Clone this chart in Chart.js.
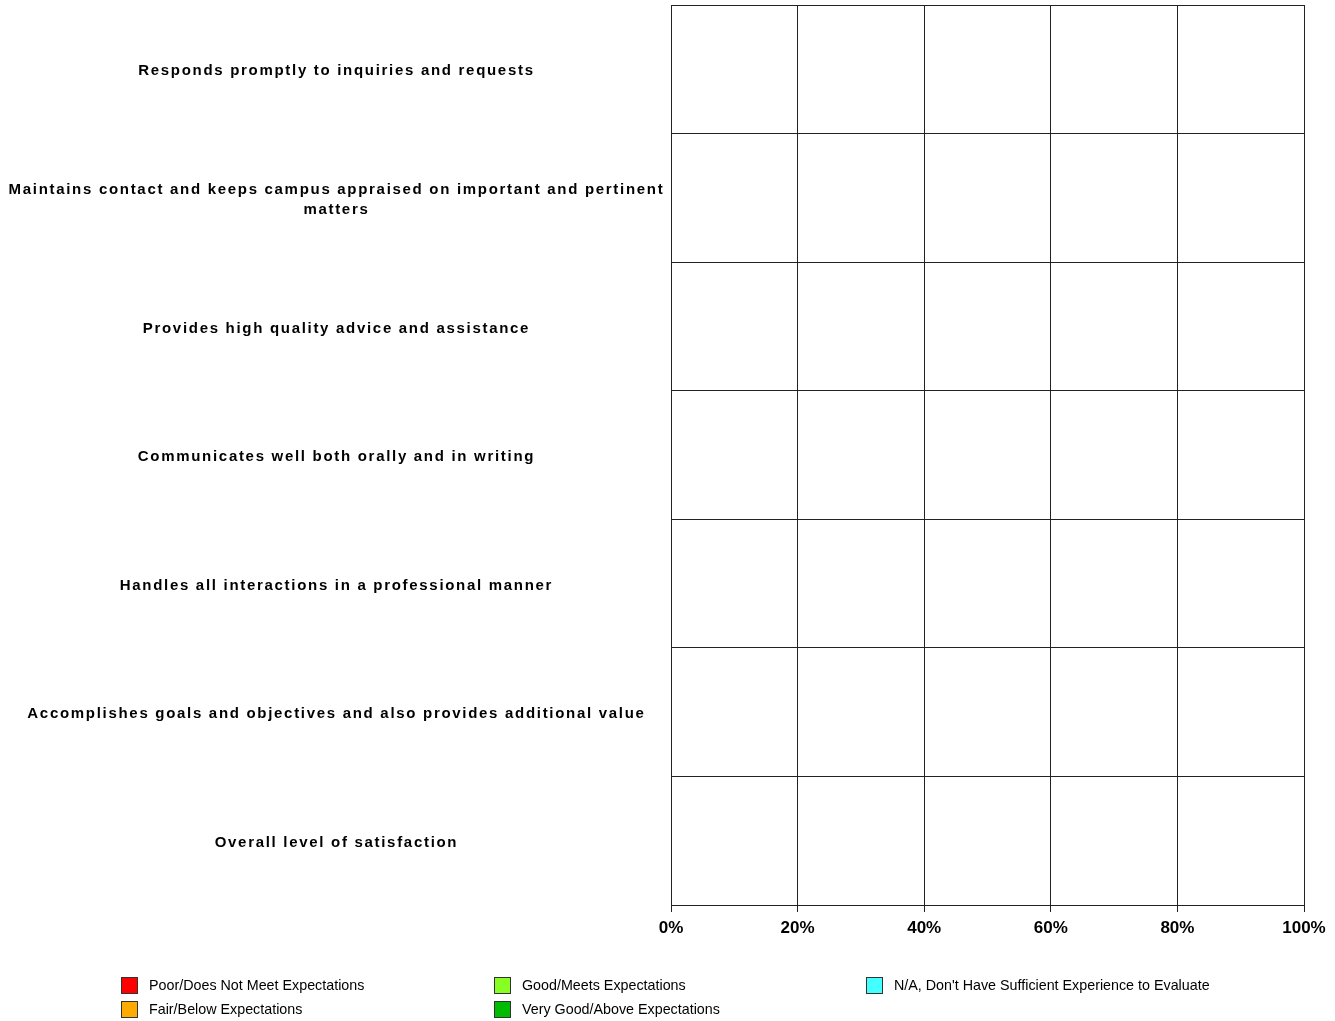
<!DOCTYPE html>
<html>
<head>
<meta charset="utf-8">
<script src="https://cdn.jsdelivr.net/npm/chart.js@4/dist/chart.umd.min.js"></script>
<style>
  html, body { margin: 0; padding: 0; background: #ffffff; }
  #wrap { width: 1335px; height: 1021px; position: relative; }
</style>
</head>
<body>
<div id="wrap"><canvas id="c" width="1335" height="1021"></canvas></div>
<script>
// ---- Data ----
const categories = [
  "Responds promptly to inquiries and requests",
  ["Maintains contact and keeps campus appraised on important and pertinent", "matters"],
  "Provides high quality advice and assistance",
  "Communicates well both orally and in writing",
  "Handles all interactions in a professional manner",
  "Accomplishes goals and objectives and also provides additional value",
  "Overall level of satisfaction"
];
const seriesNames = [
  "Poor/Does Not Meet Expectations",
  "Fair/Below Expectations",
  "Good/Meets Expectations",
  "Very Good/Above Expectations",
  "N/A, Don't Have Sufficient Experience to Evaluate"
];
const poorValues      = [0, 0, 0, 0, 0, 0, 0];
const fairValues      = [0, 0, 0, 0, 0, 0, 0];
const goodValues      = [0, 0, 0, 0, 0, 0, 0];
const veryGoodValues  = [0, 0, 0, 0, 0, 0, 0];
const naValues        = [0, 0, 0, 0, 0, 0, 0];
const xTickLabels = ["0%", "20%", "40%", "60%", "80%", "100%"];

const seriesColors = ["#FF0000", "#FFAA00", "#88FF22", "#00BB00", "#44FFFF"];
const allValues = [poorValues, fairValues, goodValues, veryGoodValues, naValues];

const datasets = seriesNames.map((name, i) => ({
  label: name,
  data: allValues[i],
  backgroundColor: seriesColors[i],
  borderColor: "#333333",
  borderWidth: 1,
  categoryPercentage: 0.6,
  barPercentage: 1.0
}));

const gridColor = "#222222";

const spacingPlugin = {
  id: "ySpacing",
  beforeDraw(chart) {
    const y = chart.scales.y;
    if (y && !y._spacedPatch) {
      const orig = y.drawLabels;
      y.drawLabels = function (area) {
        this.ctx.save();
        this.ctx.letterSpacing = "1.7px";
        this.ctx.translate(0, 2);
        orig.call(this, area);
        this.ctx.restore();
      };
      y._spacedPatch = true;
    }
  }
};

const legendPlugin = {
  id: "colLegend",
  afterDraw(chart) {
    const ctx = chart.ctx;
    const colX = [121, 494, 866];
    const rowY = [985, 1009];
    ctx.save();
    ctx.font = "14.3px 'Liberation Sans', Arial, sans-serif";
    ctx.textBaseline = "middle";
    ctx.textAlign = "left";
    seriesNames.forEach((name, i) => {
      const col = Math.floor(i / 2);
      const row = i % 2;
      const x = colX[col];
      const y = rowY[row];
      ctx.fillStyle = seriesColors[i];
      ctx.fillRect(x, y - 8, 17, 17);
      ctx.strokeStyle = "#333333";
      ctx.lineWidth = 1;
      ctx.strokeRect(x + 0.5, y - 7.5, 16, 16);
      ctx.fillStyle = "#000000";
      ctx.fillText(name, x + 28, y + 1);
    });
    ctx.restore();
  }
};

new Chart(document.getElementById("c"), {
  type: "bar",
  data: { labels: categories, datasets },
  plugins: [spacingPlugin, legendPlugin],
  options: {
    indexAxis: "y",
    responsive: false,
    animation: false,
    layout: { padding: { top: 5, right: 31, bottom: 80, left: 0 } },
    plugins: {
      legend: { display: false },
      tooltip: { enabled: false }
    },
    scales: {
      x: {
        stacked: true,
        min: 0,
        max: 100,
        afterFit(scale) { scale.height = 36; scale.paddingLeft = 0; scale.paddingRight = 0; },
        afterBuildTicks(scale) {
          scale.ticks = xTickLabels.map((t, i) => ({ value: i * 20 }));
        },
        ticks: {
          color: "#000000",
          font: { family: "'Liberation Sans', Arial, sans-serif", size: 17, weight: "bold" },
          padding: 6,
          maxRotation: 0,
          autoSkip: false,
          callback: (v, i) => xTickLabels[i]
        },
        grid: { color: gridColor, lineWidth: 1, tickLength: 7, drawTicks: true },
        border: { color: gridColor, width: 1 }
      },
      y: {
        stacked: true,
        offset: true,
        afterFit(scale) { scale.width = 671; scale.paddingTop = 0; scale.paddingBottom = 0; },
        ticks: {
          color: "#000000",
          crossAlign: "center",
          padding: 67,
          autoSkip: false,
          font: { family: "'Liberation Sans', Arial, sans-serif", size: 15, weight: "bold", lineHeight: 1.27 }
        },
        grid: { color: gridColor, lineWidth: 1, offset: true, drawTicks: false, tickLength: 0 },
        border: { color: gridColor, width: 1 }
      }
    }
  }
});
</script>
</body>
</html>
